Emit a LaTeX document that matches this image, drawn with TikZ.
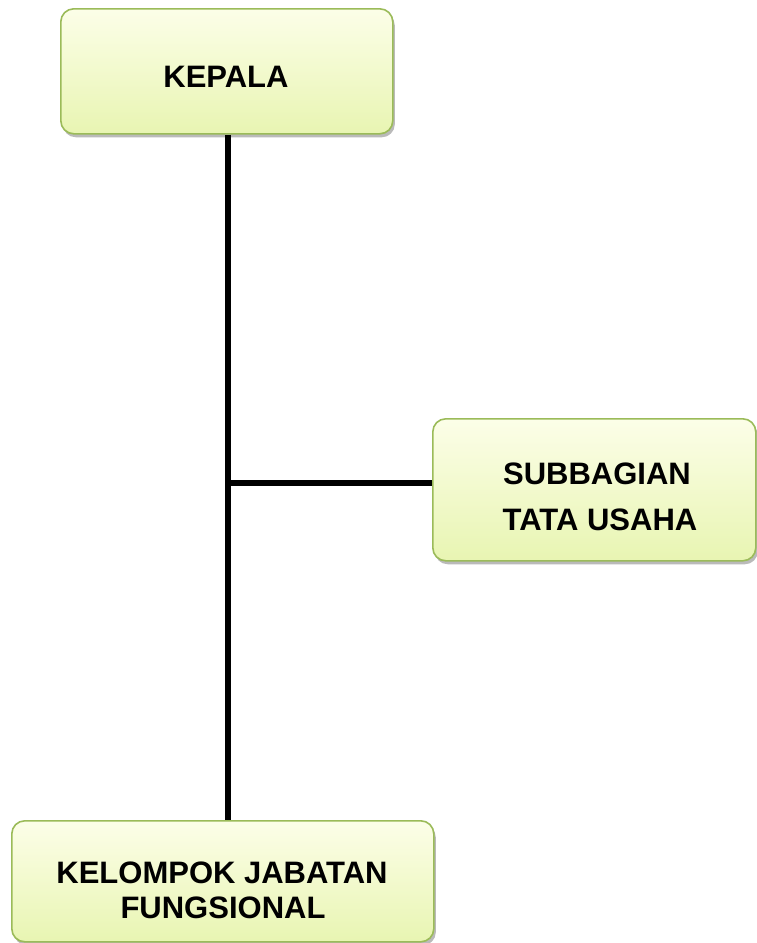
\documentclass[tikz,border=0pt]{standalone}
\usepackage{fontspec}
\setmainfont{Liberation Sans}
\usetikzlibrary{shadows}
\definecolor{boxborder}{RGB}{155,187,89}
\definecolor{boxtop}{RGB}{252,254,232}
\definecolor{boxbottom}{RGB}{232,245,178}
\tikzset{
  orgbox/.style={draw=boxborder, line width=1.6pt, rounded corners=13pt,
    top color=boxtop, bottom color=boxbottom, inner sep=0pt,
    drop shadow={shadow xshift=2pt, shadow yshift=-3.5pt, opacity=0.45, fill=black!60},
    anchor=north west},
  boxtext/.style={font=\fontsize{31}{36}\selectfont\bfseries, inner sep=0pt, anchor=base},
  conn/.style={line width=6pt, black}
}
\begin{document}
\begin{tikzpicture}[x=1pt,y=-1pt]
\useasboundingbox (0,0) rectangle (757,943);
\node[orgbox, minimum width=332pt, minimum height=125pt] (kepala) at (60,8) {};
\node[orgbox, minimum width=323pt, minimum height=142pt] (sub) at (432,418) {};
\node[orgbox, minimum width=422pt, minimum height=121pt] (kel) at (11,820) {};
\node[boxtext] (kepalaA) at (226,87) {KEPALA};
\node[boxtext] (subA) at (597,484) {SUBBAGIAN};
\node[boxtext] (subB) at (600,530) {TATA USAHA};
\node[boxtext] (kelA) at (222,883) {KELOMPOK JABATAN};
\node[boxtext] (kelB) at (223,918) {FUNGSIONAL};
\coordinate (trunk) at (228,483);
\draw[conn] (trunk |- kepala.south) -- (trunk |- kel.north);
\draw[conn] (trunk) -- (trunk -| sub.west);
\end{tikzpicture}
\end{document}
